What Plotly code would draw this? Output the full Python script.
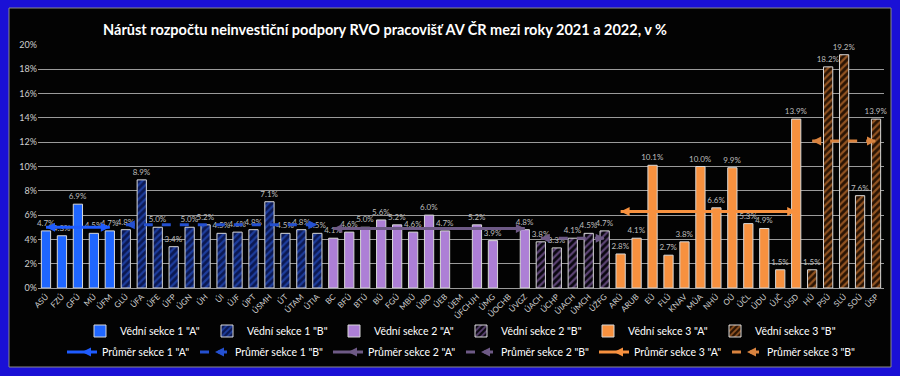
import plotly.graph_objects as go

# ---- data ----
s1a_cats = ["ASÚ", "FZÚ", "GFÚ", "MÚ", "ÚFM"]
s1a_vals = [4.7, 4.3, 6.9, 4.5, 4.7]
s1b_cats = ["GLÚ", "ÚFA", "ÚFE", "ÚFP", "ÚGN", "ÚH", "ÚI", "ÚJF", "ÚPT", "ÚSMH", "ÚT", "ÚTAM", "ÚTIA"]
s1b_vals = [4.8, 8.9, 5.0, 3.4, 5.0, 5.2, 4.5, 4.6, 4.8, 7.1, 4.5, 4.8, 4.5]
s2a_cats = ["BC", "BFÚ", "BTÚ", "BÚ", "FGÚ", "MBÚ", "ÚBO", "ÚEB", "ÚEM", "ÚFCHJH", "ÚMG", "ÚOCHB", "ÚVGZ"]
s2a_vals = [4.1, 4.6, 5.0, 5.6, 5.2, 4.6, 6.0, 4.7, None, 5.2, 3.9, None, 4.8]
s2b_cats = ["ÚACH", "ÚCHP", "ÚIACH", "ÚMCH", "ÚŽFG"]
s2b_vals = [3.8, 3.3, 4.1, 4.5, 4.7]
s3a_cats = ["ARÚ", "ARUB", "EÚ", "FLÚ", "KNAV", "MÚA", "NHÚ", "OÚ", "ÚČL", "ÚDU", "ÚJČ", "ÚSD"]
s3a_vals = [2.8, 4.1, 10.1, 2.7, 3.8, 10.0, 6.6, 9.9, 5.3, 4.9, 1.5, 13.9]
s3b_cats = ["HÚ", "PSÚ", "SLÚ", "SOÚ", "ÚSP"]
s3b_vals = [1.5, 18.2, 19.2, 7.6, 13.9]

averages = [5.0, 5.2, 4.9, 4.1, 6.3, 12.1]
bar_names = ['Vědní sekce 1 "A"', 'Vědní sekce 1 "B"', 'Vědní sekce 2 "A"',
             'Vědní sekce 2 "B"', 'Vědní sekce 3 "A"', 'Vědní sekce 3 "B"']
avg_names = ['Průměr sekce 1 "A"', 'Průměr sekce 1 "B"', 'Průměr sekce 2 "A"',
             'Průměr sekce 2 "B"', 'Průměr sekce 3 "A"', 'Průměr sekce 3 "B"']
y_ticks = [0, 2, 4, 6, 8, 10, 12, 14, 16, 18, 20]
title_text = "Nárůst rozpočtu neinvestiční podpory RVO pracovišť AV ČR mezi roky 2021 a 2022, v %"

groups = [(s1a_cats, s1a_vals), (s1b_cats, s1b_vals), (s2a_cats, s2a_vals),
          (s2b_cats, s2b_vals), (s3a_cats, s3a_vals), (s3b_cats, s3b_vals)]
all_cats = [c for cats, _ in groups for c in cats]

# ---- styles ----
FONT = "Lato"
solid = [True, False, True, False, True, False]
bar_colors = ["#1f66ff", "#2f62e8", "#ad7fd6", "#ad7fd6", "#f7913f", "#f7913f"]
pattern_bg = [None, "#0b1852", None, "#0a0710", None, "#2a1404"]
line_colors = ["#1f5cff", "#2450d0", "#6e5a86", "#6e5a86", "#f7913f", "#d9833f"]
line_dash = ["solid", "dash", "solid", "dash", "solid", "dash"]

fig = go.Figure()

for i, (cats, vals) in enumerate(groups):
    texts = ["" if v is None else f"{v:.1f}%" for v in vals]
    marker = dict(color=bar_colors[i], line=dict(color="#d8d8d8", width=1))
    if not solid[i]:
        marker["pattern"] = dict(shape="/", fgcolor=bar_colors[i], bgcolor=pattern_bg[i],
                                 size=5, solidity=0.45)
        marker["color"] = pattern_bg[i]
    fig.add_trace(go.Bar(
        x=cats, y=vals, name=bar_names[i], marker=marker,
        text=texts, textposition="outside", cliponaxis=False, constraintext="none",
        textfont=dict(family=FONT, size=8, color="#bdbdbd"),
        width=0.58, legend="legend",
    ))

for i, (cats, vals) in enumerate(groups):
    fig.add_trace(go.Scatter(
        x=[cats[0], cats[-1]], y=[averages[i], averages[i]],
        mode="lines+markers", name=avg_names[i],
        line=dict(color=line_colors[i], width=3, dash=line_dash[i]),
        marker=dict(symbol=["arrow-left", "arrow-right"], size=9, color=line_colors[i]),
        legend="legend2", cliponaxis=False,
    ))

L, R, T, B = 38, 16, 45, 88
H = 376 - T - B
W = 900 - L - R

fig.update_layout(
    width=900, height=376,
    margin=dict(l=L, r=R, t=T, b=B, autoexpand=False),
    paper_bgcolor="#1a10d6",
    plot_bgcolor="#030303",
    barmode="overlay",
    font=dict(family=FONT, color="#ffffff"),
    title=dict(text="<b>" + title_text + "</b>", x=385 / 900, xanchor="center",
               y=1 - 30 / 376, yanchor="middle",
               font=dict(family=FONT, size=14.5, color="#ffffff")),
    xaxis=dict(categoryorder="array", categoryarray=all_cats, tickangle=-45,
               tickfont=dict(family=FONT, size=8, color="#cfcfcf"),
               showgrid=False, showline=True, linecolor="#9a9a9a", linewidth=1,
               ticks="", range=[-0.5, len(all_cats) - 0.5]),
    yaxis=dict(range=[0, 20], tickvals=y_ticks, ticktext=[f"{t}%" for t in y_ticks],
               tickfont=dict(family=FONT, size=9, color="#cfcfcf"),
               showgrid=True, gridcolor="#9a9a9a", gridwidth=1,
               zeroline=False, ticks="", showline=False),
    legend=dict(orientation="h", x=0.5, xanchor="center", yref="container",
                y=1 - 331 / 376, yanchor="middle",
                font=dict(family=FONT, size=10.5, color="#ffffff"),
                bgcolor="rgba(0,0,0,0)", entrywidth=82, entrywidthmode="pixels",
                traceorder="normal"),
    legend2=dict(orientation="h", x=0.5, xanchor="center", yref="container",
                 y=1 - 352 / 376, yanchor="middle",
                 font=dict(family=FONT, size=10.5, color="#ffffff"),
                 bgcolor="rgba(0,0,0,0)", entrywidth=88, entrywidthmode="pixels",
                 traceorder="normal"),
    shapes=[dict(type="rect", xref="paper", yref="paper",
                 x0=(9 - L) / W, x1=(891 - L) / W,
                 y0=(288 - 367) / H, y1=(288 - 8) / H,
                 fillcolor="#030303", line=dict(color="#8a8a8a", width=1), layer="below")],
    showlegend=True,
)

fig.write_html("out.html", config={"displayModeBar": False},
               post_script="document.body.style.margin='0px';")
